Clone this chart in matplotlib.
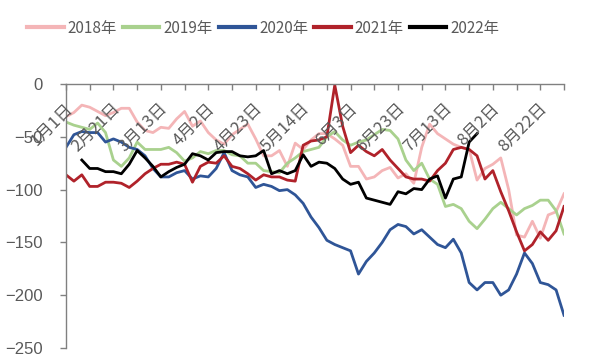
import numpy as np
import matplotlib
matplotlib.use("Agg")
import matplotlib.pyplot as plt

plt.rcParams['font.family'] = ['Noto Sans CJK SC', 'DejaVu Sans']

# ---- data (x = step index, 3 steps per tick) ----
dates = ["1月1日", "2月21日", "3月13日", "4月2日", "4月23日", "5月14日",
         "6月3日", "6月23日", "7月13日", "8月2日", "8月22日"]
years = ["2018年", "2019年", "2020年", "2021年", "2022年"]

v2018 = [-31, -27, -20, -22, -26, -30, -27, -23, -23, -36, -44, -46, -41, -42, -33, -26,
         -40, -35, -46, -53, -57, -48, -43, -38, -52, -68, -68, -63, -78, -56, -62, -53,
         -47, -47, -52, -58, -78, -78, -90, -88, -82, -79, -89, -85, -94, -60, -38, -47,
         -52, -57, -60, -62, -91, -80, -76, -70, -100, -143, -145, -130, -146, -124, -121, -104]
v2019 = [-36, -39, -41, -43, -37, -46, -72, -78, -70, -55, -62, -62, -62, -60, -65, -73,
         -70, -64, -66, -63, -63, -67, -68, -75, -75, -82, -83, -84, -75, -70, -64, -62,
         -60, -50, -45, -53, -58, -55, -53, -48, -43, -44, -52, -72, -82, -75, -90, -95,
         -116, -114, -118, -130, -137, -128, -118, -112, -118, -124, -118, -115, -110, -110, -120, -142]
v2020 = [-60, -48, -45, -46, -46, -55, -52, -55, -60, -62, -68, -80, -88, -88, -84, -82,
         -90, -87, -88, -80, -65, -82, -86, -88, -98, -95, -97, -101, -100, -105, -113, -126,
         -136, -148, -152, -155, -158, -180, -168, -160, -150, -138, -133, -135, -142, -138, -145, -152,
         -155, -147, -160, -188, -195, -188, -188, -200, -195, -180, -160, -170, -188, -190, -195, -219]
v2021 = [-86, -92, -86, -97, -97, -93, -93, -94, -98, -92, -85, -80, -76, -76, -74, -76,
         -93, -78, -74, -75, -68, -78, -80, -85, -91, -86, -88, -88, -91, -92, -58, -54,
         -53, -50, -1, -40, -65, -58, -64, -68, -62, -72, -80, -88, -90, -90, -92, -82,
         -75, -62, -60, -62, -68, -90, -82, -102, -120, -140, -158, -152, -140, -148, -139, -116]
v2022 = [-72, -80, -80, -83, -83, -85, -76, -63, -70, -78, -88, -83, -79, -76, -66, -68,
         -72, -65, -64, -64, -68, -69, -68, -63, -85, -82, -85, -82, -67, -78, -74, -75,
         -80, -90, -95, -93, -108, -110, -112, -114, -102, -104, -99, -100, -90, -87, -108, -90,
         -88, -55, -47]
start2022 = 2

series = [v2018, v2019, v2020, v2021, v2022]
starts = [0, 0, 0, 0, start2022]
colors = ["#F4B5B7", "#A9D18E", "#2F5597", "#B0222A", "#000000"]
grey = "#595959"

fig = plt.figure(figsize=(5.93, 3.6), dpi=100)
ax = fig.add_axes([66/593, 1-348/360, (564-66)/593, (348-84)/360])

for vals, s, c, lab in zip(series, starts, colors, years):
    x = s + np.arange(len(vals))
    ax.plot(x, vals, color=c, lw=2.0, label=lab)

ax.set_xlim(0, 63)
ax.set_ylim(-250, 0)
ax.set_yticks(np.arange(-250, 1, 50))
ax.set_xticks(np.arange(0, 64, 3))
ax.xaxis.tick_top()
ax.set_xticklabels([])
ax.tick_params(axis="x", direction="in", length=4, color="#808080", width=1)
ax.tick_params(axis="y", direction="out", length=4, color="#808080", width=1,
               pad=13, labelsize=12, labelcolor=grey)
for t in ax.get_yticklabels():
    t.set_family("Liberation Sans")
for side in ["right", "bottom"]:
    ax.spines[side].set_visible(False)
for side in ["left", "top"]:
    ax.spines[side].set_color("#808080")
    ax.spines[side].set_linewidth(1)

# rotated date labels below the zero line
for i, d in enumerate(dates):
    ax.annotate(d, xy=(i*6, 0), xytext=(4, -22), textcoords="offset pixels",
                rotation=45, rotation_mode="anchor", ha="right", va="center",
                fontsize=12, color=grey, annotation_clip=False)

fig.legend(loc="center", bbox_to_anchor=(263/593, 1-28/360), ncol=5, frameon=False,
           fontsize=11, handlelength=2.4, handletextpad=0.25, columnspacing=0.4,
           labelcolor=grey)
for h in fig.legends[0].get_lines():
    h.set_linewidth(3)

fig.savefig("out.png", dpi=100)
